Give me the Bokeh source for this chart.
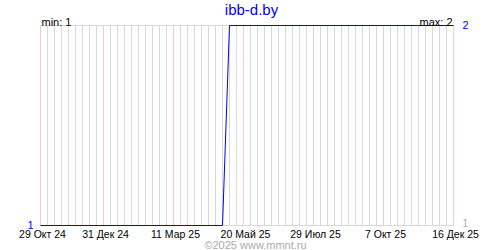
import pandas as pd
from bokeh.plotting import figure
from bokeh.models import Range1d, Label
from bokeh.embed import file_html
from bokeh.resources import INLINE

# ---- data ----
dates = ["2024-10-29", "2025-04-29", "2025-05-06", "2025-12-16"]
values = [1, 1, 2, 2]
tick_dates = ["2024-10-29", "2024-12-31", "2025-03-11", "2025-05-20",
              "2025-07-29", "2025-10-07", "2025-12-16"]
tick_labels = ["29 Окт 24", "31 Дек 24", "11 Мар 25", "20 Май 25",
               "29 Июл 25", "7 Окт 25", "16 Дек 25"]
y_min, y_max = 1, 2
title_text = "ibb-d.by"
min_text = "min: 1"
max_text = "max: 2"
left_label = (1, "1")
right_labels = [(2, "2"), (1, "1")]
copyright_text = "©2025 www.mmnt.ru"

FONT = "Liberation Sans"
W, H = 500, 250
PL, PR, PT, PB = 40, 47, 25, 25   # plot-area margins in px

x = pd.to_datetime(dates)
start = pd.Timestamp(tick_dates[0])
end = pd.Timestamp(tick_dates[-1])

# frame covers whole canvas; ranges extended so the plot area sits inside
days = (end - start).days
px_per_day = (W - PL - PR) / days
xr = Range1d(start - pd.Timedelta(days=PL / px_per_day),
             end + pd.Timedelta(days=PR / px_per_day))
px_per_unit = (H - PT - PB) / (y_max - y_min)
yr = Range1d(y_min - PB / px_per_unit, y_max + PT / px_per_unit)

p = figure(width=W, height=H, output_backend="svg", toolbar_location=None,
           x_axis_type=None, y_axis_type=None, title=None,
           x_range=xr, y_range=yr, min_border=0)
p.outline_line_color = None
p.grid.visible = False
p.background_fill_color = "white"
p.border_fill_color = "white"

# weekly grey grid
week = []
d = start
while d <= end:
    week.append(d)
    d += pd.Timedelta(days=7)
p.segment(x0=week, y0=[y_min] * len(week), x1=week, y1=[y_max] * len(week),
          line_color="#d8d8d8", line_width=1)
# horizontal grid at min/max
p.segment(x0=[start, start], y0=[y_min, y_max], x1=[end, end], y1=[y_min, y_max],
          line_color="#d8d8d8", line_width=1)
# pink grid at labelled dates
td = pd.to_datetime(tick_dates)
p.segment(x0=td, y0=[y_min] * len(td), x1=td, y1=[y_max] * len(td),
          line_color="#ffc8c8", line_width=1)

# data line
p.line(x, values, line_color="#0000ff", line_width=1)

def lab(**kw):
    base = dict(text_font=FONT, text_font_size="11px", text_color="black")
    base.update(kw)
    p.add_layout(Label(**base))

# x tick labels
for t, l in zip(td, tick_labels):
    lab(x=t, y=17, x_units="data", y_units="screen", text=l, x_offset=2,
        text_align="center", text_baseline="middle", text_font_size="10.5px")

# title etc. (screen units from bottom-left of canvas)
lab(x=251, y=H - 9, x_units="screen", y_units="screen", text=title_text,
    text_align="center", text_baseline="middle", text_font_size="15px",
    text_color="blue")
lab(x=41, y=H - 21, x_units="screen", y_units="screen", text=min_text,
    text_align="left", text_baseline="alphabetic")
lab(x=452, y=H - 21, x_units="screen", y_units="screen", text=max_text,
    text_align="right", text_baseline="alphabetic")
lab(x=33, y=left_label[0], x_units="screen", y_units="data", text=left_label[1],
    text_align="right", text_baseline="middle", text_color="blue", y_offset=1)
for (yv, t), col, fs, off in zip(right_labels, ["blue", "#aaaaaa"], ["11px", "10px"], [1, 3]):
    lab(x=462, y=yv, x_units="screen", y_units="data", text=t,
        text_align="left", text_baseline="middle", text_font_size=fs,
        text_color=col, y_offset=off)
lab(x=255, y=6, x_units="screen", y_units="screen", text=copyright_text,
    text_align="center", text_baseline="middle", text_color="#aaaaaa")

open("out.html", "w").write(file_html(p, INLINE))
